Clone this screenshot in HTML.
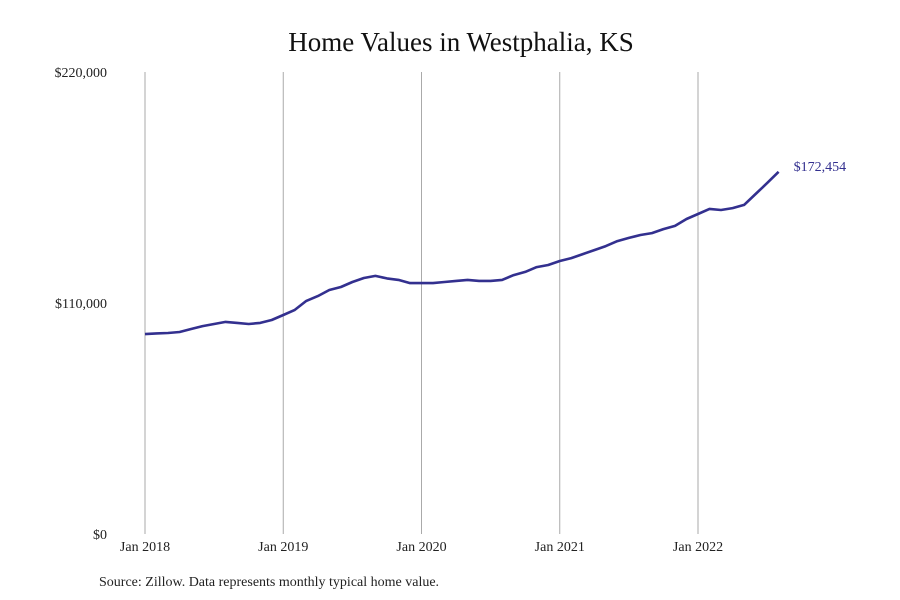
<!DOCTYPE html>
<html><head><meta charset="utf-8"><style>
body{margin:0;background:#fff;}
svg{display:block;font-family:"Liberation Serif",serif;}
</style></head><body>
<svg id="chart" width="900" height="600">
<text x="461" y="51" text-anchor="middle" font-size="27" fill="#111">Home Values in Westphalia, KS</text>
<g id="grid"></g><g id="yaxis"></g><g id="xaxis"></g><g id="series"></g>
<text x="99" y="586" font-size="14" fill="#222">Source: Zillow. Data represents monthly typical home value.</text>
</svg>
<script>
const values=[95.2,95.5,95.7,96.2,97.6,99.0,100.0,101.0,100.5,100.0,100.5,101.9,
104.3,106.7,111.0,113.3,116.2,117.6,120.0,121.9,122.9,121.7,121.0,119.5,
119.5,119.5,120.0,120.5,121.0,120.5,120.5,121.0,123.3,124.8,127.1,128.1,
130.0,131.4,133.3,135.2,137.1,139.5,141.0,142.4,143.3,145.2,146.7,150.0,
152.4,154.8,154.3,155.2,156.7,161.9,167.1,172.454];
const yTicks=[0,110,220];
const yTickLabels=["$0","$110,000","$220,000"];
const xTickLabels=["Jan 2018","Jan 2019","Jan 2020","Jan 2021","Jan 2022"];
const lastLabel="$172,454";
const NS="http://www.w3.org/2000/svg";
const x=i=>145+i*(698-145)/48;
const y=v=>534-v*(534-72)/220;
function mk(t,a,p){const e=document.createElementNS(NS,t);for(const k in a)e.setAttribute(k,a[k]);p.appendChild(e);return e;}
const grid=document.getElementById('grid'),ya=document.getElementById('yaxis'),xa=document.getElementById('xaxis'),se=document.getElementById('series');
xTickLabels.forEach((l,i)=>{
 const ln=mk('line',{x1:x(i*12),x2:x(i*12),y1:72,y2:534,stroke:'#aaa','stroke-width':1},grid);
 
 
 const t=mk('text',{x:x(i*12),y:551,'text-anchor':'middle','font-size':14,fill:'#222'},xa);
 t.textContent=l;
 
 
});
yTicks.forEach((v,i)=>{
 const t=mk('text',{x:107,y:y(v)+5,'text-anchor':'end','font-size':14,fill:'#222'},ya);
 t.textContent=yTickLabels[i];
 
 
});
const pts=values.map((v,i)=>x(i).toFixed(1)+','+y(v).toFixed(1)).join(' ');
const pl=mk('polyline',{points:pts,fill:'none',stroke:'#33308f','stroke-width':2.6,'stroke-linejoin':'round'},se);


const n=values.length-1;
const lt=mk('text',{x:x(n)+15,y:y(values[n])-1,'font-size':14,fill:'#33308f'},se);
lt.textContent=lastLabel;


</script>
</body></html>
